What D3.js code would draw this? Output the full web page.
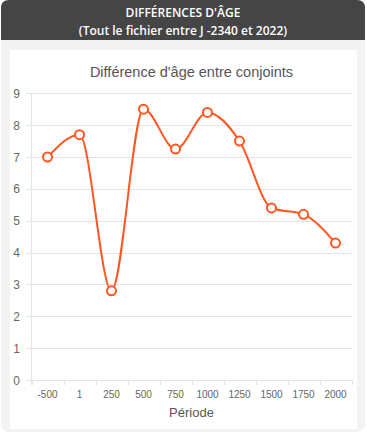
<!DOCTYPE html>
<html>
<head>
<meta charset="utf-8">
<script src="https://cdn.jsdelivr.net/npm/d3@7"></script>
<style>
  body { margin: 0; background: #fff; font-family: "Open Sans", sans-serif; }
</style>
</head>
<body>
<svg id="chart" width="367" height="433"></svg>
<script>
// data
var periods = ["-500", "1", "250", "500", "750", "1000", "1250", "1500", "1750", "2000"];
var ageDiff = [7.0, 7.7, 2.8, 8.5, 7.25, 8.4, 7.5, 5.4, 5.2, 4.3];
var yTicks = [0, 1, 2, 3, 4, 5, 6, 7, 8, 9];

var svg = d3.select("#chart");
var chartFont = "'Liberation Sans', Arial, sans-serif";

// card + header
svg.append("rect").attr("x", 1).attr("y", 0).attr("width", 364).attr("height", 432)
  .attr("rx", 8).attr("fill", "#f3f3f3");
svg.append("path")
  .attr("d", "M1,40 V8 Q1,0 9,0 H357 Q365,0 365,8 V40 Z")
  .attr("fill", "#454545");
svg.append("text").attr("x", 183).attr("y", 17).attr("text-anchor", "middle")
  .attr("fill", "#fff").attr("font-size", 12).attr("font-weight", 600)
  .text("DIFFÉRENCES D'ÂGE");
svg.append("text").attr("x", 183).attr("y", 35).attr("text-anchor", "middle")
  .attr("fill", "#fff").attr("font-size", 12).attr("font-weight", 600)
  .text("(Tout le fichier entre J -2340 et 2022)");

// white panel
svg.append("rect").attr("x", 10).attr("y", 50).attr("width", 347).attr("height", 379)
  .attr("fill", "#fff");

var pLeft = 31.5, pRight = 351.5, pTop = 93.3, pBottom = 380;

var x = d3.scaleBand().domain(periods).range([pLeft, pRight]);
var y = d3.scaleLinear().domain([0, 9]).range([pBottom, pTop]);

svg.append("text").attr("x", (pLeft + pRight) / 2).attr("y", 77).attr("text-anchor", "middle")
  .attr("fill", "#555").attr("font-size", 14.5).attr("font-family", chartFont)
  .text("Différence d'âge entre conjoints");

// grid
svg.append("g").selectAll("line").data(yTicks).join("line")
  .attr("x1", pLeft - 5).attr("x2", pRight)
  .attr("y1", d => Math.round(y(d)) + 0.5).attr("y2", d => Math.round(y(d)) + 0.5)
  .attr("stroke", "#e3e3e3");

svg.append("line").attr("x1", pLeft).attr("x2", pLeft).attr("y1", pTop).attr("y2", pBottom + 5)
  .attr("stroke", "#e3e3e3");

// x ticks
svg.append("g").selectAll("line").data(periods.concat(["end"])).join("line")
  .attr("x1", (d, i) => Math.round(pLeft + i * x.bandwidth()) + 0.5)
  .attr("x2", (d, i) => Math.round(pLeft + i * x.bandwidth()) + 0.5)
  .attr("y1", pBottom).attr("y2", pBottom + 5)
  .attr("stroke", "#e3e3e3");

svg.append("g").selectAll("text").data(yTicks).join("text")
  .attr("x", 20).attr("y", d => y(d) + 4.5).attr("text-anchor", "end")
  .attr("fill", "#666").attr("font-size", 12).attr("font-family", chartFont)
  .text(d => d);

svg.append("g").selectAll("text").data(periods).join("text")
  .attr("x", d => x(d) + x.bandwidth() / 2).attr("y", 398).attr("text-anchor", "middle")
  .attr("fill", "#666").attr("font-size", 10).attr("font-family", chartFont)
  .text(d => d);

svg.append("text").attr("x", (pLeft + pRight) / 2).attr("y", 417).attr("text-anchor", "middle")
  .attr("fill", "#555").attr("font-size", 13).attr("font-family", chartFont)
  .text("Période");

// line
var line = d3.line()
  .x((d, i) => x(periods[i]) + x.bandwidth() / 2)
  .y(d => y(d))
  .curve(d3.curveMonotoneX);

svg.append("path").datum(ageDiff).attr("d", line)
  .attr("fill", "none").attr("stroke", "#ff5722").attr("stroke-width", 2);

svg.append("g").selectAll("circle").data(ageDiff).join("circle")
  .attr("cx", (d, i) => x(periods[i]) + x.bandwidth() / 2)
  .attr("cy", d => y(d))
  .attr("r", 4.5)
  .attr("fill", "#fff").attr("stroke", "#ff5722").attr("stroke-width", 2);
</script>
</body>
</html>
